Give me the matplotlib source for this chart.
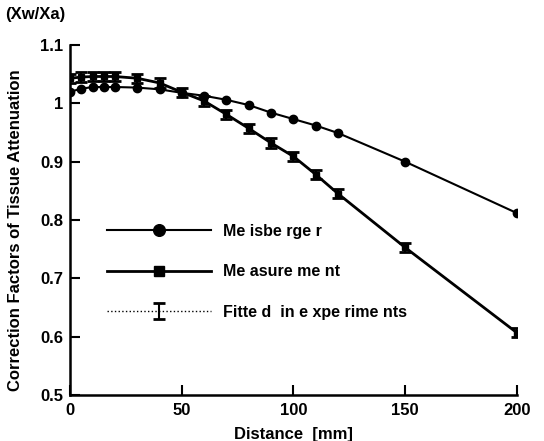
import matplotlib
matplotlib.use("Agg")
import matplotlib.pyplot as plt

plt.rcParams['font.family'] = ['Liberation Sans', 'DejaVu Sans']

# data
dist = [0, 5, 10, 15, 20, 30, 40, 50, 60, 70, 80, 90, 100, 110, 120, 150, 200]
meisberger = [1.020, 1.025, 1.028, 1.028, 1.028, 1.027, 1.024, 1.018, 1.013, 1.006,
              0.997, 0.984, 0.973, 0.962, 0.949, 0.900, 0.812]
measurement = [1.043, 1.045, 1.046, 1.046, 1.046, 1.043, 1.035, 1.019, 1.004, 0.981,
               0.957, 0.932, 0.909, 0.878, 0.845, 0.753, 0.607]
fitted = [1.043, 1.045, 1.046, 1.046, 1.046, 1.043, 1.035, 1.019, 1.004, 0.981,
          0.957, 0.932, 0.909, 0.878, 0.845, 0.753, 0.607]
fit_err = [0.008] * len(dist)
x_ticks = [0, 50, 100, 150, 200]
y_ticks = [0.5, 0.6, 0.7, 0.8, 0.9, 1.0, 1.1]
y_ticklabels = ['0.5', '0.6', '0.7', '0.8', '0.9', '1', '1.1']

fig = plt.figure(figsize=(5.44, 4.41), dpi=100)
ax = fig.add_axes([0.129, 0.104, 0.821, 0.794])

ax.plot(dist, meisberger, color='black', lw=1.5, marker='o', ms=6,
        label='Me isbe rge r')
ax.plot(dist, measurement, color='black', lw=2.0, marker='s', ms=5,
        label='Me asure me nt')
ax.errorbar(dist, fitted, yerr=fit_err, color='black', lw=1.0, ls=':',
            elinewidth=1.5, capsize=4, capthick=2,
            label='Fitte d  in e xpe rime nts')

ax.set_xlim(0, 200)
ax.set_ylim(0.5, 1.1)
ax.set_xticks(x_ticks)
ax.set_yticks(y_ticks)
ax.set_yticklabels(y_ticklabels)
for s in ['top', 'right']:
    ax.spines[s].set_visible(False)
for s in ['left', 'bottom']:
    ax.spines[s].set_linewidth(1.8)
ax.tick_params(direction='in', length=7, width=1.5, labelsize=12)
ax.tick_params(axis='x', pad=6)
ax.tick_params(axis='y', pad=5)
for lab in ax.get_xticklabels() + ax.get_yticklabels():
    lab.set_fontweight('bold')

ax.set_xlabel('Distance  [mm]', fontsize=12, fontweight='bold')
ax.xaxis.set_label_coords(0.5, -0.09)
ax.set_ylabel('Correction Factors of Tissue Attenuation', fontsize=12,
              fontweight='bold')
ax.yaxis.set_label_coords(-0.105, 0.47)
fig.text(0.01, 0.958, '(Xw/Xa)', fontsize=12, fontweight='bold')

leg = ax.legend(loc='upper left', bbox_to_anchor=(0.05, 0.53), frameon=False,
                handlelength=6.5, labelspacing=1.6, markerscale=1.4,
                prop={'weight': 'bold', 'size': 11.5})

fig.savefig('out.png', dpi=100)
